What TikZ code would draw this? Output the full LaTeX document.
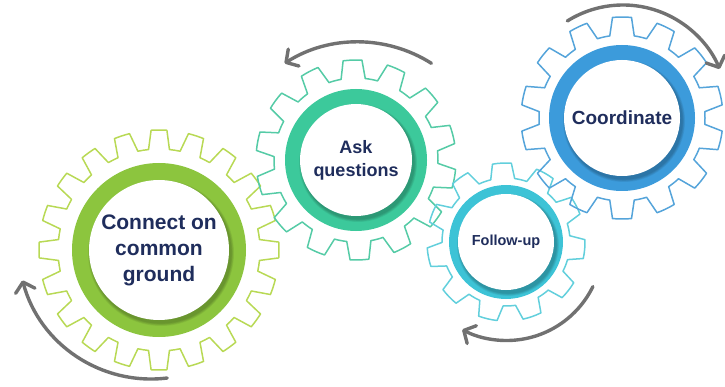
\documentclass[tikz,border=0pt]{standalone}
\usepackage{fontspec}
\setmainfont{Liberation Sans}
\usetikzlibrary{arrows.meta}
\definecolor{navy}{HTML}{1F2D5C}
\definecolor{arrowgray}{HTML}{717171}
\definecolor{limeline}{HTML}{B8D955}
\definecolor{limering}{HTML}{8CC53E}
\definecolor{tealline}{HTML}{55CBA6}
\definecolor{tealring}{HTML}{3CC99B}
\definecolor{cyanline}{HTML}{62CFDC}
\definecolor{cyanring}{HTML}{3DC3D6}
\definecolor{blueline}{HTML}{55A4DA}
\definecolor{bluering}{HTML}{3C9BDB}
% gear outline: teeth, root radius, tip radius, phase
\newcommand{\gearpath}[4]{%
  (#4-0.33*360/#1:#2)
  \foreach \k [evaluate=\k as \a using #4+(\k-1)*360/#1] in {1,...,#1}{
    -- (\a-0.33*360/#1:#2) -- (\a-0.21*360/#1:#3)
    arc[start angle=\a-0.21*360/#1, end angle=\a+0.21*360/#1, radius=#3]
    -- (\a+0.33*360/#1:#2)
    arc[start angle=\a+0.33*360/#1, end angle=\a+0.67*360/#1, radius=#2]
  } -- cycle}
\begin{document}
\begin{tikzpicture}[x=1pt,y=1pt,
  gearline/.style={draw=#1,line width=1.5pt,line join=round},
  disc/.style={circle,fill=white,inner sep=0pt,align=center,text=navy},
  cycarrow/.style={draw=arrowgray,line width=3.4pt,line cap=round,
    -{Straight Barb[length=9pt,width=20pt,line cap=round,line join=round]}}]
  \useasboundingbox (0,0) rectangle (725,386);
  \coordinate (g1) at (159,136);
  \coordinate (g2) at (356,226);
  \coordinate (g3) at (506,144);
  \coordinate (g4) at (622,268);
  % outlines
  \draw[gearline=limeline,shift={(g1)}] \gearpath{20}{101}{120}{90};
  \draw[gearline=tealline,shift={(g2)}] \gearpath{14}{82}{100}{92};
  \draw[gearline=cyanline,shift={(g3)}] \gearpath{11}{64}{79}{93};
  \draw[gearline=blueline,shift={(g4)}] \gearpath{14}{83}{101}{90};
  % rings with soft inner shadow
  \foreach \g/\col/\ro/\ri in {g1/limering/87/70,g2/tealring/71/56,g3/cyanring/57/48,g4/bluering/73/58} {
    \fill[\col] (\g) circle[radius=\ro];
    \foreach \s in {1,...,5}
      \fill[black,opacity=.05,shift={(\g)}] (2,-3) circle[radius=\ri+\s*.6];
  }
  \node[disc,minimum size=140,font=\bfseries\fontsize{21}{26}\selectfont] (c1) at (g1) {Connect on\\common\\ground};
  \node[disc,minimum size=112,font=\bfseries\fontsize{18}{23}\selectfont] (c2) at (g2) {Ask\\questions};
  \node[disc,minimum size=96,font=\bfseries\fontsize{14.5}{17}\selectfont] (c3) at (g3) {Follow-up};
  \node[disc,minimum size=116,font=\bfseries\fontsize{19}{23}\selectfont] (c4) at (g4) {Coordinate};
  % rotation arrows
  \coordinate (a1) at ([shift={(151,140)}]277:133);
  \coordinate (a2) at ([shift={(358,207)}]57.6:137);
  \coordinate (a3) at ([shift={(506.6,141.5)}]-26:96);
  \coordinate (a4) at ([shift={(623,276)}]122:105);
  \draw[cycarrow] (a1) arc[start angle=277,end angle=195,radius=133];
  \draw[cycarrow] (a2) arc[start angle=57.6,end angle=122.4,radius=137];
  \draw[cycarrow] (a3) arc[start angle=-26,end angle=-117.5,radius=96];
  \draw[cycarrow] (a4) arc[start angle=122,end angle=23,radius=105];
\end{tikzpicture}
\end{document}
